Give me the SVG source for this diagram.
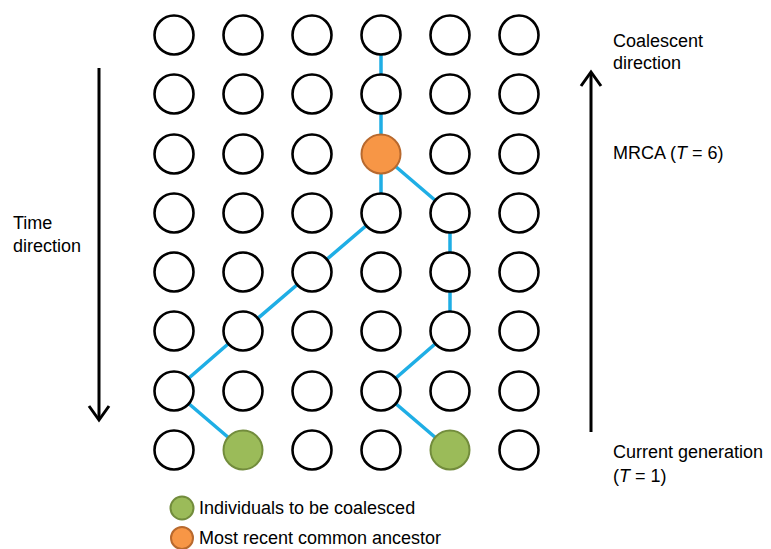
<svg xmlns="http://www.w3.org/2000/svg" width="771" height="549" viewBox="0 0 771 549">
<style>
.n{fill:#fff;stroke:#000;stroke-width:2.6}
.o{fill:#F79646;stroke:#B8692E;stroke-width:2}
.g{fill:#9BBB59;stroke:#728C3C;stroke-width:2}
.e{stroke:#1FAEE5;stroke-width:3.5;fill:none}
.ax{stroke:#000;stroke-width:3;fill:none}
text{font-family:"Liberation Sans",Arial,sans-serif;font-size:18px;fill:#000}
</style>
<rect width="771" height="549" fill="#fff"/>
<g id="connectors">
<polyline class="e" points="381,35 381,94 381,154 381,213 312,272 243,331 174,391 243,450"/>
<polyline class="e" points="381,154 450,213 450,272 450,331 381,391 450,450"/>
</g>
<g id="axes">
<line class="ax" x1="99" y1="68" x2="99" y2="419"/>
<polyline class="ax" points="89,406 99,420 109,406"/>
<line class="ax" x1="591" y1="73" x2="591" y2="432"/>
<polyline class="ax" points="581,86 591,72 601,86"/>
</g>
<g id="r0"><g id="n0_0"><circle class="n" cx="174" cy="35" r="19.5"/></g><g id="n0_1"><circle class="n" cx="243" cy="35" r="19.5"/></g><g id="n0_2"><circle class="n" cx="312" cy="35" r="19.5"/></g><g id="n0_3"><circle class="n" cx="381" cy="35" r="19.5"/></g><g id="n0_4"><circle class="n" cx="450" cy="35" r="19.5"/></g><g id="n0_5"><circle class="n" cx="519" cy="35" r="19.5"/></g></g>
<g id="r1"><g id="n1_0"><circle class="n" cx="174" cy="94" r="19.5"/></g><g id="n1_1"><circle class="n" cx="243" cy="94" r="19.5"/></g><g id="n1_2"><circle class="n" cx="312" cy="94" r="19.5"/></g><g id="n1_3"><circle class="n" cx="381" cy="94" r="19.5"/></g><g id="n1_4"><circle class="n" cx="450" cy="94" r="19.5"/></g><g id="n1_5"><circle class="n" cx="519" cy="94" r="19.5"/></g></g>
<g id="r2"><g id="n2_0"><circle class="n" cx="174" cy="154" r="19.5"/></g><g id="n2_1"><circle class="n" cx="243" cy="154" r="19.5"/></g><g id="n2_2"><circle class="n" cx="312" cy="154" r="19.5"/></g><g id="n2_3"><circle class="o" cx="381" cy="154" r="19.5"/></g><g id="n2_4"><circle class="n" cx="450" cy="154" r="19.5"/></g><g id="n2_5"><circle class="n" cx="519" cy="154" r="19.5"/></g></g>
<g id="r3"><g id="n3_0"><circle class="n" cx="174" cy="213" r="19.5"/></g><g id="n3_1"><circle class="n" cx="243" cy="213" r="19.5"/></g><g id="n3_2"><circle class="n" cx="312" cy="213" r="19.5"/></g><g id="n3_3"><circle class="n" cx="381" cy="213" r="19.5"/></g><g id="n3_4"><circle class="n" cx="450" cy="213" r="19.5"/></g><g id="n3_5"><circle class="n" cx="519" cy="213" r="19.5"/></g></g>
<g id="r4"><g id="n4_0"><circle class="n" cx="174" cy="272" r="19.5"/></g><g id="n4_1"><circle class="n" cx="243" cy="272" r="19.5"/></g><g id="n4_2"><circle class="n" cx="312" cy="272" r="19.5"/></g><g id="n4_3"><circle class="n" cx="381" cy="272" r="19.5"/></g><g id="n4_4"><circle class="n" cx="450" cy="272" r="19.5"/></g><g id="n4_5"><circle class="n" cx="519" cy="272" r="19.5"/></g></g>
<g id="r5"><g id="n5_0"><circle class="n" cx="174" cy="331" r="19.5"/></g><g id="n5_1"><circle class="n" cx="243" cy="331" r="19.5"/></g><g id="n5_2"><circle class="n" cx="312" cy="331" r="19.5"/></g><g id="n5_3"><circle class="n" cx="381" cy="331" r="19.5"/></g><g id="n5_4"><circle class="n" cx="450" cy="331" r="19.5"/></g><g id="n5_5"><circle class="n" cx="519" cy="331" r="19.5"/></g></g>
<g id="r6"><g id="n6_0"><circle class="n" cx="174" cy="391" r="19.5"/></g><g id="n6_1"><circle class="n" cx="243" cy="391" r="19.5"/></g><g id="n6_2"><circle class="n" cx="312" cy="391" r="19.5"/></g><g id="n6_3"><circle class="n" cx="381" cy="391" r="19.5"/></g><g id="n6_4"><circle class="n" cx="450" cy="391" r="19.5"/></g><g id="n6_5"><circle class="n" cx="519" cy="391" r="19.5"/></g></g>
<g id="r7"><g id="n7_0"><circle class="n" cx="174" cy="450" r="19.5"/></g><g id="n7_1"><circle class="g" cx="243" cy="450" r="19.5"/></g><g id="n7_2"><circle class="n" cx="312" cy="450" r="19.5"/></g><g id="n7_3"><circle class="n" cx="381" cy="450" r="19.5"/></g><g id="n7_4"><circle class="g" cx="450" cy="450" r="19.5"/></g><g id="n7_5"><circle class="n" cx="519" cy="450" r="19.5"/></g></g>
<g id="labels">
<text x="13" y="229">Time</text>
<text x="13" y="252">direction</text>
<text x="613" y="47">Coalescent</text>
<text x="613" y="69">direction</text>
<text x="613" y="159">MRCA (<tspan font-style="italic">T</tspan> = 6)</text>
<text x="613" y="458">Current generation</text>
<text x="613" y="482">(<tspan font-style="italic">T</tspan> = 1)</text>
</g>
<g id="legend">
<circle class="g" cx="182" cy="508" r="11.5"/>
<text x="199" y="514">Individuals to be coalesced</text>
<circle class="o" cx="182" cy="538" r="11"/>
<text x="199" y="544" font-size="18.5">Most recent common ancestor</text>
</g>
</svg>
